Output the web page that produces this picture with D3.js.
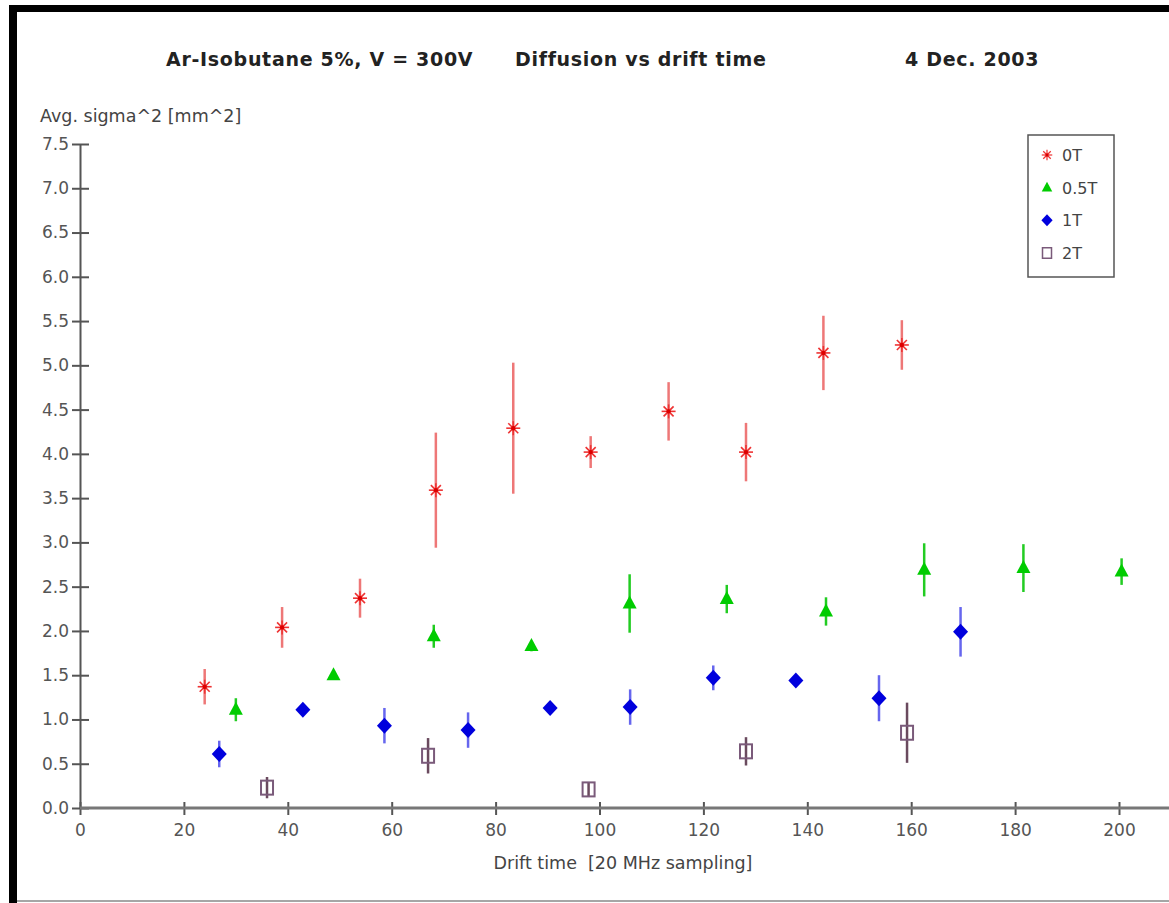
<!DOCTYPE html>
<html>
<head>
<meta charset="utf-8">
<script src="https://cdn.jsdelivr.net/npm/d3@7"></script>
<style>
  body { margin: 0; background: #fff; }
  svg { display: block; font-family: "DejaVu Sans", sans-serif; }
</style>
</head>
<body>
<svg id="vis" width="1169" height="903"></svg>
<script>
// ---- data ----
var legendNames = ["0T", "0.5T", "1T", "2T"];

var time0T = [24.0, 38.9, 53.9, 68.5, 83.4, 98.3, 113.3, 128.2, 143.1, 158.2];
var sig0T  = [1.37, 2.04, 2.37, 3.59, 4.29, 4.02, 4.48, 4.02, 5.14, 5.23];
var err0T  = [0.20, 0.23, 0.22, 0.65, 0.74, 0.18, 0.33, 0.33, 0.42, 0.28];

var time05T = [30.0, 48.8, 68.1, 86.9, 105.8, 124.5, 143.6, 162.5, 181.6, 200.5];
var sig05T  = [1.11, 1.50, 1.94, 1.83, 2.31, 2.36, 2.22, 2.69, 2.71, 2.67];
var err05T  = [0.13, 0.04, 0.13, 0.06, 0.33, 0.16, 0.16, 0.30, 0.27, 0.15];

var time1T = [26.8, 42.9, 58.6, 74.7, 90.5, 105.9, 121.9, 137.8, 153.8, 169.5];
var sig1T  = [0.61, 1.11, 0.93, 0.88, 1.13, 1.14, 1.47, 1.44, 1.24, 1.99];
var err1T  = [0.15, 0.05, 0.20, 0.20, 0.05, 0.20, 0.14, 0.05, 0.26, 0.28];

var time2T = [36.0, 67.0, 97.9, 128.2, 159.2];
var sig2T  = [0.23, 0.59, 0.21, 0.64, 0.85];
var err2T  = [0.12, 0.20, 0.08, 0.16, 0.34];

var xTicks = [0, 20, 40, 60, 80, 100, 120, 140, 160, 180, 200];
var yTicks = [0, 0.5, 1, 1.5, 2, 2.5, 3, 3.5, 4, 4.5, 5, 5.5, 6, 6.5, 7, 7.5];

var titleParts = ["Ar-Isobutane 5%, V = 300V", "Diffusion vs drift time", "4 Dec. 2003"];

// ---- setup ----
var svg = d3.select("#vis");
var W = 1169, H = 903;

var x = d3.scaleLinear().domain([0, 200]).range([80, 1119]);
var y = d3.scaleLinear().domain([0, 7.5]).range([808, 144]);

// frame: black bars left and top, thin grey bottom line
svg.append("rect").attr("x", 9).attr("y", 5).attr("width", W - 9).attr("height", 7).attr("fill", "#000");
svg.append("rect").attr("x", 9).attr("y", 5).attr("width", 8).attr("height", H - 5).attr("fill", "#000");
svg.append("line").attr("x1", 17).attr("x2", W).attr("y1", 901).attr("y2", 901)
  .attr("stroke", "#888").attr("stroke-width", 1.5);

// title (three separate pieces, like the original)
var titleX = [166, 515, 905];
svg.selectAll("text.title").data(titleParts).enter().append("text")
  .attr("class", "title")
  .attr("x", function(d, i) { return titleX[i]; })
  .attr("y", 66)
  .attr("font-size", 19)
  .attr("font-weight", "bold")
  .attr("letter-spacing", 0.7)
  .attr("fill", "#222")
  .text(function(d) { return d; });

// y axis
var yAxis = d3.axisLeft(y).tickValues(yTicks).tickFormat(d3.format(".1f"))
  .tickSizeInner(8).tickSizeOuter(0).tickPadding(3);
var gy = svg.append("g").attr("transform", "translate(80,0)").call(yAxis);
gy.select(".domain").attr("stroke", "#555").attr("stroke-width", 2);
gy.selectAll(".tick line").attr("x2", 9).attr("x1", -8).attr("stroke", "#555").attr("stroke-width", 2);
gy.selectAll(".tick text").attr("x", -11).attr("font-size", 17).attr("fill", "#555")
  .attr("font-family", "DejaVu Sans, sans-serif");

// x axis
var xAxis = d3.axisBottom(x).tickValues(xTicks).tickFormat(d3.format("d"))
  .tickSizeInner(6).tickSizeOuter(0).tickPadding(8);
var gx = svg.append("g").attr("transform", "translate(0,808)").call(xAxis);
gx.select(".domain").remove();
gx.append("line").attr("x1", 80).attr("x2", W).attr("stroke", "#777").attr("stroke-width", 3);
gx.selectAll(".tick line").attr("y1", -6).attr("y2", 7).attr("stroke", "#555").attr("stroke-width", 2);
gx.selectAll(".tick text").attr("y", 16).attr("font-size", 17).attr("fill", "#555")
  .attr("font-family", "DejaVu Sans, sans-serif");

// axis titles
svg.append("text").attr("x", 40).attr("y", 122).attr("font-size", 17.5).attr("fill", "#444")
  .text("Avg. sigma^2 [mm^2]");
svg.append("text").attr("x", 623).attr("y", 869).attr("text-anchor", "middle")
  .attr("font-size", 17.5).attr("fill", "#444")
  .style("white-space", "pre")
  .text("Drift time  [20 MHz sampling]");

// ---- markers ----
function asterisk(g, col) {
  var r = 7;
  [[0, -r, 0, r], [-r, 0, r, 0], [-5, -5, 5, 5], [-5, 5, 5, -5]].forEach(function(p) {
    g.append("line").attr("x1", p[0]).attr("y1", p[1]).attr("x2", p[2]).attr("y2", p[3])
      .attr("stroke", col).attr("stroke-width", 1.6);
  });
  g.append("circle").attr("r", 2.2).attr("fill", "#d00");
}
function triangle(g, col) {
  g.append("path").attr("d", "M0,-8L7,5L-7,5Z").attr("fill", col);
}
function diamond(g, col) {
  g.append("path").attr("d", "M0,-8L7.5,0L0,8L-7.5,0Z").attr("fill", col);
}
function square(g, col) {
  g.append("rect").attr("x", -6).attr("y", -7).attr("width", 12).attr("height", 14)
    .attr("fill", "none").attr("stroke", col).attr("stroke-width", 2);
}

var series = [
  { t: time0T,  s: sig0T,  e: err0T,  bar: "#ee7777", col: "#ee3333", draw: asterisk },
  { t: time05T, s: sig05T, e: err05T, bar: "#22cc22", col: "#00cc00", draw: triangle },
  { t: time1T,  s: sig1T,  e: err1T,  bar: "#6666ee", col: "#0000dd", draw: diamond },
  { t: time2T,  s: sig2T,  e: err2T,  bar: "#6a4a5e", col: "#7a5a7a", draw: square }
];

series.forEach(function(ser) {
  var pts = ser.t.map(function(d, i) { return { t: d, s: ser.s[i], e: ser.e[i] }; });

  svg.append("g").selectAll("line").data(pts).enter().append("line")
    .attr("x1", function(d) { return x(d.t); })
    .attr("x2", function(d) { return x(d.t); })
    .attr("y1", function(d) { return y(d.s + d.e); })
    .attr("y2", function(d) { return y(d.s - d.e); })
    .attr("stroke", ser.bar).attr("stroke-width", 2.5);

  svg.append("g").selectAll("g").data(pts).enter().append("g")
    .attr("transform", function(d) { return "translate(" + x(d.t) + "," + y(d.s) + ")"; })
    .each(function() { ser.draw(d3.select(this), ser.col); });
});

// ---- legend ----
var leg = svg.append("g");
leg.append("rect").attr("x", 1028).attr("y", 135).attr("width", 86).attr("height", 142)
  .attr("fill", "#fff").attr("stroke", "#555").attr("stroke-width", 1.5);
var legY = d3.scalePoint().domain(legendNames).range([155, 253]);
legendNames.forEach(function(name, i) {
  var g = leg.append("g").attr("transform", "translate(1047," + legY(name) + ") scale(0.75)");
  series[i].draw(g, series[i].col);
  leg.append("text").attr("x", 1062).attr("y", legY(name) + 6).attr("font-size", 16)
    .attr("fill", "#444").text(name);
});
</script>
</body>
</html>
